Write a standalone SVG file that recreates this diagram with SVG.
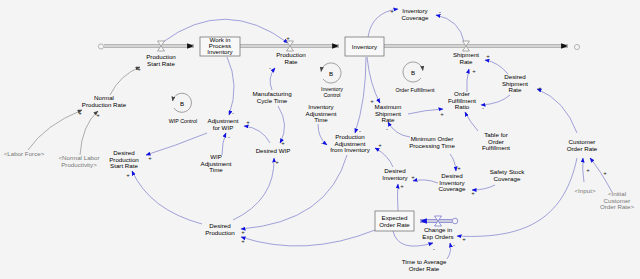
<svg xmlns="http://www.w3.org/2000/svg" width="640" height="279" viewBox="0 0 640 279">
<defs>
<marker id="ah" viewBox="0 0 10 8" refX="9" refY="4" markerWidth="5" markerHeight="4" orient="auto" markerUnits="userSpaceOnUse"><path d="M0,0 L10,4 L0,8 Z" fill="#1010e0"/></marker>
<marker id="ahg" viewBox="0 0 10 8" refX="9" refY="4" markerWidth="5" markerHeight="4" orient="auto" markerUnits="userSpaceOnUse"><path d="M0,0 L10,4 L0,8 Z" fill="#444"/></marker>
<marker id="pah" viewBox="0 0 10 8" refX="10" refY="4" markerWidth="7" markerHeight="5.5" orient="auto" markerUnits="userSpaceOnUse"><path d="M0,0 L10,4 L0,8 Z" fill="#111"/></marker>
<marker id="pahb" viewBox="0 0 10 8" refX="10" refY="4" markerWidth="7" markerHeight="5.5" orient="auto" markerUnits="userSpaceOnUse"><path d="M0,0 L10,4 L0,8 Z" fill="#1010e0"/></marker>
</defs>
<style>
text{font-family:"Liberation Sans",Arial,sans-serif;font-size:6.2px;fill:#000;text-anchor:middle}
.sh{fill:#777}
.sm{font-size:5.3px}
.pol{font-size:6px;fill:#111}
.c{fill:none;stroke:#8a8ad0;stroke-width:0.8;marker-end:url(#ah)}
.cg{fill:none;stroke:#999;stroke-width:0.8;marker-end:url(#ahg)}
.box{fill:#f8f8f8;stroke:#777;stroke-width:0.8}
.po{fill:none;stroke:#a0a0a0;stroke-width:3.4}
.pi{fill:none;stroke:#e6e6e6;stroke-width:1.6}
.pob{fill:none;stroke:#6c6cc8;stroke-width:3.4}
.valve{fill:#fafafa;stroke:#888;stroke-width:0.7}
.valveb{fill:#fafafa;stroke:#6c6cc8;stroke-width:0.7}
.cloud{fill:#f4f4f4;stroke:#999;stroke-width:0.7}
.loop{fill:none;stroke:#666;stroke-width:0.6;marker-end:url(#ahg)}
</style>
<rect width="640" height="279" fill="#f4f4f4"/>

<g id="flows">
<line class="po" x1="104" y1="46" x2="194" y2="46"/>
<line class="pi" x1="104" y1="46" x2="194" y2="46" marker-end="url(#pah)"/>
<line class="po" x1="240" y1="46" x2="339" y2="46"/>
<line class="pi" x1="240" y1="46" x2="339" y2="46" marker-end="url(#pah)"/>
<line class="po" x1="384" y1="46" x2="568" y2="46"/>
<line class="pi" x1="384" y1="46" x2="568" y2="46" marker-end="url(#pah)"/>
<circle class="cloud" cx="101" cy="46.5" r="2.6"/>
<circle class="cloud" cx="577" cy="47" r="2.6"/>
<line class="pob" x1="452" y1="221" x2="420" y2="221"/>
<line class="pi" x1="452" y1="221" x2="420" y2="221" marker-end="url(#pahb)"/>
<circle class="cloud" cx="455" cy="221" r="2.8" style="stroke:#6c6cc8"/>
</g>

<g id="connectors">
<path class="c" d="M163,42 Q225,-4 288,43"/>
<path class="c" d="M368,37 Q372,12 398,9"/>
<path class="c" d="M464,42 Q460,20 436,15"/>
<path class="c" d="M508,74 Q498,62 485,60"/>
<path class="c" d="M510,95 Q500,104 481,105"/>
<path class="c" d="M467,92 Q466,80 469,69"/>
<path class="c" d="M408,114 Q425,110 443,109"/>
<path class="c" d="M478,131 Q470,122 465,112"/>
<path class="c" d="M577,133 Q565,100 537,89"/>
<path class="c" d="M367,57 Q370,85 380,103"/>
<path class="c" d="M366,57 Q366,100 355,133"/>
<path class="c" d="M410,137 Q395,135 388,122"/>
<path class="c" d="M450,154 Q455,160 456,171"/>
<path class="c" d="M495,185 Q485,190 472,190"/>
<path class="c" d="M438,183 Q425,178 413,181"/>
<path class="c" d="M398,211 Q397,195 398,184"/>
<path class="c" d="M393,167 Q388,155 375,148"/>
<path class="c" d="M318,124 Q318,138 327,145"/>
<path class="c" d="M347,155 Q328,222 241,229"/>
<path class="c" d="M375,230 Q305,258 241,237"/>
<path class="c" d="M233,220 Q275,200 274,158"/>
<path class="c" d="M202,224 Q150,210 132,171"/>
<path class="c" d="M207,133 Q175,146 146,155"/>
<path class="c" d="M272,90 Q267,78 275,68"/>
<path class="c" d="M278,106 Q290,125 280,143"/>
<path class="c" d="M227,57 Q240,85 229,115"/>
<path class="c" d="M222,155 Q222,142 226,133"/>
<path class="c" d="M270,143 Q262,128 244,126"/>
<path class="cg" d="M110,95 Q120,75 140,67"/>
<path class="cg" d="M28,150 Q45,125 82,110"/>
<path class="cg" d="M80,155 Q82,125 98,111"/>
<path class="c" d="M584,182 Q582,170 583,158"/>
<path class="c" d="M612,192 Q600,170 590,158"/>
<path class="c" d="M577,158 C565,215 530,240 457,236"/>
<path class="c" d="M393,231 Q398,253 433,243"/>
<path class="c" d="M447,259 Q452,252 450,243"/>
</g>

<g id="polarities">
<text class="pol" x="288" y="40">+</text>
<text class="pol" x="392" y="13">+</text>
<text class="pol" x="440" y="14">-</text>
<text class="pol" x="488" y="58">+</text>
<text class="pol" x="483" y="110">-</text>
<text class="pol" x="474" y="73">+</text>
<text class="pol" x="442" y="116">+</text>
<text class="pol" x="540" y="90">+</text>
<text class="pol" x="372" y="103">+</text>
<text class="pol" x="360" y="133">-</text>
<text class="pol" x="387" y="131">-</text>
<text class="pol" x="459" y="170">+</text>
<text class="pol" x="473" y="195">+</text>
<text class="pol" x="413" y="179">+</text>
<text class="pol" x="402" y="188">+</text>
<text class="pol" x="380" y="147">+</text>
<text class="pol" x="322" y="145">-</text>
<text class="pol" x="243" y="234">+</text>
<text class="pol" x="243" y="243">+</text>
<text class="pol" x="277" y="164">+</text>
<text class="pol" x="128" y="177">+</text>
<text class="pol" x="150" y="160">+</text>
<text class="pol" x="270" y="70">-</text>
<text class="pol" x="283" y="145">+</text>
<text class="pol" x="233" y="115">-</text>
<text class="pol" x="229" y="139">-</text>
<text class="pol" x="248" y="124">+</text>
<text class="pol" x="139" y="71">+</text>
<text class="pol" x="80" y="115">+</text>
<text class="pol" x="98" y="117">+</text>
<text class="pol" x="588" y="172">+</text>
<text class="pol" x="605" y="175">+</text>
<text class="pol" x="464" y="241">+</text>
<text class="pol" x="434" y="251">-</text>
<text class="pol" x="454" y="247">-</text>
</g>

<g id="loops">
<g id="loop-wip"><path class="loop" d="M174,108 A9.5,9.5 0 1 0 172.6,101"/><text x="182" y="105.5">B</text><text class="sm" x="183" y="123">WIP Control</text></g>
<g id="loop-inv"><path class="loop" d="M323,79 A10,10 0 1 0 321.1,71.5"/><text x="331" y="75.5">B</text><text class="sm" x="332" y="91">Inventory</text><text class="sm" x="332" y="96.5">Control</text></g>
<g id="loop-of"><path class="loop" d="M421,78 A10,10 0 1 1 422.9,70.5"/><text x="413" y="74.5">B</text><text class="sm" x="415" y="92">Order Fulfillment</text></g>
</g>

<g id="wip"><rect class="box" x="200" y="37" width="40" height="19"/><text x="220" y="41.5">Work in</text><text x="220" y="47.8">Process</text><text x="220" y="54">Inventory</text></g>
<g id="inventory"><rect class="box" x="345" y="37" width="39" height="19"/><text x="364.5" y="48.5">Inventory</text></g>
<g id="expected-order-rate"><rect class="box" x="375" y="211" width="39" height="20"/><text x="394.5" y="219.5">Expected</text><text x="394.5" y="226.5">Order Rate</text></g>

<g id="production-start-rate"><path class="valve" d="M157.5,41 H164.5 L157.5,51 H164.5 Z"/><text x="161" y="59">Production</text><text x="161" y="65.5">Start Rate</text></g>
<g id="production-rate"><path class="valve" d="M286.5,41 H293.5 L286.5,51 H293.5 Z"/><text x="291" y="57">Production</text><text x="291" y="63.5">Rate</text></g>
<g id="shipment-rate"><path class="valve" d="M462.5,41 H469.5 L462.5,51 H469.5 Z"/><text x="466" y="57">Shipment</text><text x="466" y="63.5">Rate</text></g>
<g id="change-exp-orders"><path class="valveb" d="M434.5,216 H441.5 L434.5,226 H441.5 Z"/><text x="438" y="232">Change in</text><text x="438" y="238.5">Exp Orders</text></g>

<g id="inventory-coverage"><text x="415" y="13">Inventory</text><text x="415" y="19.5">Coverage</text></g>
<g id="desired-shipment-rate"><text x="515" y="79">Desired</text><text x="515" y="85.5">Shipment</text><text x="515" y="92">Rate</text></g>
<g id="order-fulfillment-ratio"><text x="462" y="96">Order</text><text x="462" y="102.5">Fulfillment</text><text x="462" y="109">Ratio</text></g>
<g id="table-order-fulfillment"><text x="496" y="137">Table for</text><text x="496" y="143.5">Order</text><text x="496" y="150">Fulfillment</text></g>
<g id="customer-order-rate"><text x="582" y="144">Customer</text><text x="582" y="150.5">Order Rate</text></g>
<g id="input"><text class="sh" x="585" y="193">&lt;Input&gt;</text></g>
<g id="initial-customer-order-rate"><text class="sh" x="617" y="196">&lt;Initial</text><text class="sh" x="617" y="202.5">Customer</text><text class="sh" x="617" y="209">Order Rate&gt;</text></g>
<g id="safety-stock-coverage"><text x="507" y="174">Safety Stock</text><text x="507" y="180.5">Coverage</text></g>
<g id="desired-inventory-coverage"><text x="452" y="178">Desired</text><text x="452" y="184.5">Inventory</text><text x="452" y="191">Coverage</text></g>
<g id="minimum-order-processing-time"><text x="432" y="141">Minimum Order</text><text x="432" y="147.5">Processing Time</text></g>
<g id="maximum-shipment-rate"><text x="388" y="109">Maximum</text><text x="388" y="115.5">Shipment</text><text x="388" y="122">Rate</text></g>
<g id="inventory-adjustment-time"><text x="321" y="109">Inventory</text><text x="321" y="115.5">Adjustment</text><text x="321" y="122">Time</text></g>
<g id="production-adjustment"><text x="350" y="139">Production</text><text x="350" y="145.5">Adjustment</text><text x="350" y="152">from Inventory</text></g>
<g id="desired-inventory"><text x="395" y="173">Desired</text><text x="395" y="179.5">Inventory</text></g>
<g id="manufacturing-cycle-time"><text x="272" y="96">Manufacturing</text><text x="272" y="102.5">Cycle Time</text></g>
<g id="adjustment-for-wip"><text x="223" y="123">Adjustment</text><text x="223" y="129.5">for WIP</text></g>
<g id="wip-adjustment-time"><text x="216" y="159">WIP</text><text x="216" y="165.5">Adjustment</text><text x="216" y="172">Time</text></g>
<g id="desired-wip"><text x="273" y="153">Desired WIP</text></g>
<g id="desired-production"><text x="220" y="228">Desired</text><text x="220" y="234.5">Production</text></g>
<g id="desired-production-start-rate"><text x="124" y="155">Desired</text><text x="124" y="161.5">Production</text><text x="124" y="168">Start Rate</text></g>
<g id="labor-force"><text class="sh" x="24" y="156">&lt;Labor Force&gt;</text></g>
<g id="normal-labor-productivity"><text class="sh" x="79" y="160">&lt;Normal Labor</text><text class="sh" x="79" y="166.5">Productivity&gt;</text></g>
<g id="normal-production-rate"><text x="104" y="100">Normal</text><text x="104" y="106.5">Production Rate</text></g>
<g id="time-to-average-order-rate"><text x="424" y="264">Time to Average</text><text x="424" y="270.5">Order Rate</text></g>
</svg>
